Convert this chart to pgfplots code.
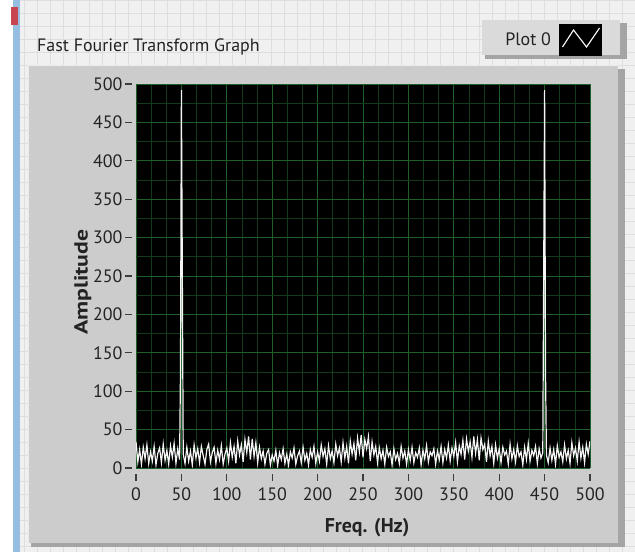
\documentclass[border=0pt]{standalone}
\usepackage{pgfplots}
\pgfplotsset{compat=1.18}
\usepackage{pgfplotstable}
\usepackage{graphicx}
\usepackage{fontspec}
\setmainfont{PT Sans}
\definecolor{bgpan}{RGB}{240,240,240}
\definecolor{bggrid}{RGB}{222,222,222}
\definecolor{panel}{RGB}{204,204,204}
\definecolor{shadow}{RGB}{165,165,165}
\definecolor{legfill}{RGB}{218,218,218}
\definecolor{gmaj}{RGB}{30,96,40}
\definecolor{gmin}{RGB}{18,58,26}
\definecolor{txt}{RGB}{35,35,35}
\definecolor{tickc}{RGB}{60,60,60}
\definecolor{lvblue}{RGB}{150,190,225}
\definecolor{lvred}{RGB}{200,70,80}

\pgfplotstableread[row sep=\\]{
f y\\
0 34\\2 8\\4 24\\6 5\\8 27\\10 12\\12 30\\14 6\\16 21\\18 9\\
20 28\\22 4\\24 19\\26 26\\28 7\\30 31\\32 10\\34 23\\36 5\\38 29\\
40 14\\42 32\\44 6\\46 25\\48 11\\49 128\\50 492\\51 258\\52 18\\54 6\\56 27\\58 9\\
60 22\\62 4\\64 30\\66 13\\68 25\\70 7\\72 28\\74 16\\76 5\\78 24\\
80 31\\82 8\\84 20\\86 27\\88 6\\90 23\\92 11\\94 29\\96 5\\98 18\\
100 26\\102 9\\104 33\\106 14\\108 28\\110 6\\112 35\\114 17\\116 30\\118 8\\
120 37\\122 20\\124 41\\126 11\\128 38\\130 15\\132 33\\134 7\\136 27\\138 12\\
140 22\\142 5\\144 19\\146 24\\148 4\\150 17\\152 9\\154 23\\156 3\\158 20\\
160 11\\162 25\\164 6\\166 18\\168 4\\170 21\\172 13\\174 26\\176 5\\178 16\\
180 22\\182 7\\184 27\\186 10\\188 19\\190 4\\192 24\\194 14\\196 28\\198 6\\
200 21\\202 9\\204 30\\206 15\\208 25\\210 5\\212 29\\214 12\\216 22\\218 7\\
220 31\\222 16\\224 26\\226 8\\228 33\\230 13\\232 28\\234 6\\236 35\\238 18\\
240 32\\242 10\\244 39\\246 21\\248 43\\250 14\\252 37\\254 25\\256 41\\258 9\\
260 34\\262 17\\264 28\\266 7\\268 26\\270 12\\272 23\\274 5\\276 27\\278 15\\
280 21\\282 4\\284 25\\286 11\\288 19\\290 6\\292 28\\294 13\\296 22\\298 5\\
300 24\\302 10\\304 27\\306 7\\308 20\\310 14\\312 26\\314 4\\316 23\\318 12\\
320 29\\322 8\\324 21\\326 16\\328 25\\330 5\\332 22\\334 11\\336 28\\338 7\\
340 24\\342 13\\344 30\\346 9\\348 26\\350 15\\352 33\\354 8\\356 29\\358 18\\
360 36\\362 11\\364 38\\366 22\\368 34\\370 14\\372 41\\374 19\\376 37\\378 10\\
380 39\\382 24\\384 31\\386 8\\388 35\\390 16\\392 28\\394 6\\396 30\\398 13\\
400 25\\402 7\\404 27\\406 17\\408 22\\410 5\\412 31\\414 12\\416 24\\418 8\\
420 29\\422 15\\424 21\\426 4\\428 27\\430 11\\432 32\\434 9\\436 23\\438 16\\
440 28\\442 6\\444 25\\446 13\\448 20\\449 258\\450 492\\451 128\\452 17\\454 7\\456 26\\458 10\\
460 24\\462 5\\464 29\\466 14\\468 21\\470 8\\472 30\\474 12\\476 23\\478 6\\
480 33\\482 16\\484 26\\486 9\\488 34\\490 13\\492 27\\494 7\\496 31\\498 18\\
500 35\\
}\spec

\begin{document}
\begin{tikzpicture}[x=1bp,y=1bp]
\useasboundingbox (0,0) rectangle (635,552);
% front panel background with its grid
\fill[bgpan] (0,0) rectangle (635,552);
\foreach \gx in {24,37,...,635} {\draw[bggrid,line width=0.7bp] (\gx,0) -- (\gx,552);}
\foreach \gy in {0,13,...,552} {\draw[bggrid,line width=0.7bp] (20,552-\gy) -- (635,552-\gy);}
\fill[white] (0,0) rectangle (13,552);
\fill[lvblue] (13,0) rectangle (20,552);
\fill[lvred] (11,527) rectangle (18,545);
% graph panel
\fill[shadow] (31,5) rectangle (625,483);
\fill[panel] (28,9) rectangle (618,486);
\draw[white!85!gray,line width=1bp] (28,9) -- (28,486) -- (618,486);
% legend box
\fill[shadow] (485,493) rectangle (627,529);
\fill[legfill] (482,497) rectangle (620,532);
% title
\node[anchor=west,text=txt,font=\fontsize{18}{18}\selectfont,inner sep=0pt] at (37,505) {Fast Fourier Transform Graph};
\begin{axis}[
  at={(136bp,84bp)}, anchor=south west,
  scale only axis, width=454bp, height=384bp,
  xmin=0, xmax=500, ymin=0, ymax=500,
  xtick={0,50,...,500}, ytick={0,50,...,500},
  minor x tick num=2, minor y tick num=1,
  grid=both,
  major grid style={gmaj,line width=0.9bp},
  minor grid style={gmin,line width=0.7bp},
  axis background/.style={fill=black},
  axis x line=bottom, axis y line=left,
  axis x line shift=6bp, axis y line shift=4bp,
  axis line style={draw=none},
  tick align=outside,
  major tick length=7bp,
  minor tick length=0bp,
  tick style={tickc,line width=1.2bp},
  /pgf/number format/assume math mode=true,
  ticklabel style={text=txt,font=\fontsize{18}{18}\selectfont},
  xticklabel style={yshift=-3bp},
  yticklabel style={xshift=1bp},
  xlabel={Freq. (Hz)},
  xlabel style={at={(axis description cs:0.509,-0.155)},anchor=center,text=txt,font=\bfseries\fontsize{20}{20}\selectfont},
  ylabel={\scalebox{1.25}[1]{Amplitude}},
  ylabel style={at={(axis description cs:-0.117,0.484)},anchor=center,rotate=0,text=txt,font=\bfseries\fontsize{19}{19}\selectfont},
  legend plot pos=right,
  legend image code/.code={
    \fill[black] (0bp,-15bp) rectangle (42bp,15bp);
    \draw[white,line width=1.1bp] (3bp,-7bp) -- (14bp,10bp) -- (27bp,-7bp) -- (40bp,12bp);
  },
  legend style={at={(axis description cs:0.918,1.1146)},anchor=center,draw=none,fill=none,
    font=\fontsize{18}{18}\selectfont,text=txt,/tikz/column sep=6bp},
]
\addplot[color=white!92!gray,line width=1.2bp] table[x=f,y=y]{\spec};
\addlegendentry{Plot 0}
\end{axis}
\end{tikzpicture}
\end{document}
